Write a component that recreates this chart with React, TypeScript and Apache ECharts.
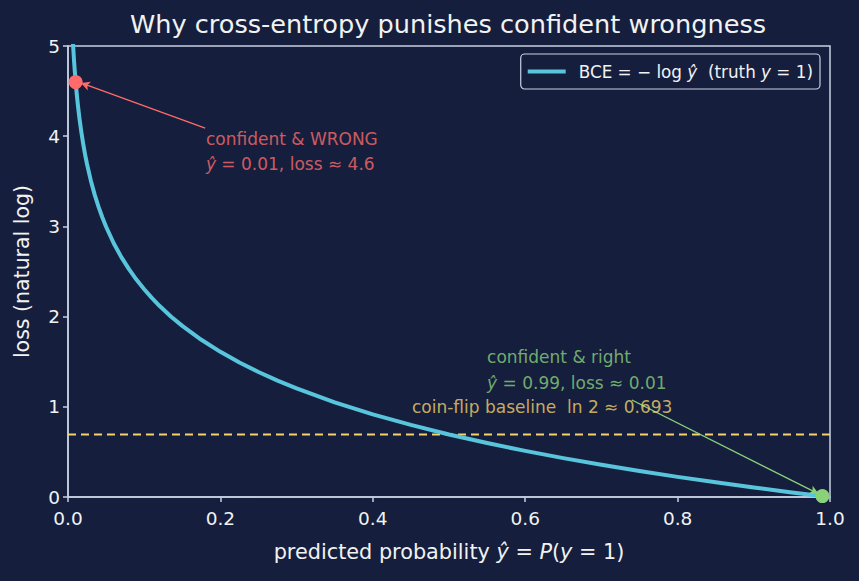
import React, { useEffect, useRef } from "react";
import * as echarts from "echarts";

// Predicted probability for the true class and its binary cross-entropy loss
const probs = [
  0.005, 0.0067, 0.008, 0.009, 0.01, 0.0115, 0.013, 0.015, 0.0175, 0.02, 0.0225,
  0.025, 0.03, 0.035, 0.04, 0.045, 0.05, 0.06, 0.07, 0.08, 0.09, 0.1, 0.11, 0.12,
  0.135, 0.15, 0.175, 0.2, 0.225, 0.25, 0.275, 0.3, 0.35, 0.4, 0.45, 0.5, 0.55,
  0.6, 0.65, 0.7, 0.75, 0.8, 0.85, 0.9, 0.95, 1.0,
];
const losses = [
  5.298, 5.006, 4.828, 4.711, 4.605, 4.465, 4.343, 4.2, 4.046, 3.912, 3.794,
  3.689, 3.507, 3.352, 3.219, 3.101, 2.996, 2.813, 2.659, 2.526, 2.408, 2.303,
  2.207, 2.12, 2.002, 1.897, 1.743, 1.609, 1.492, 1.386, 1.291, 1.204, 1.05,
  0.916, 0.799, 0.693, 0.598, 0.511, 0.431, 0.357, 0.288, 0.223, 0.163, 0.105,
  0.051, 0.0,
];

// Highlighted predictions
const wrongPoint = [0.01, 4.6];
const rightPoint = [0.99, 0.01];
const baselineLoss = 0.693;
const baselineSpan = [0, 1];

// Axis ranges
const xRange = [0, 1];
const yRange = [0, 5];

// Annotation anchors (data coordinates)
const wrongTextAt = [[0.181, 3.97], [0.181, 3.69]];
const rightTextAt = [[0.55, 1.55], [0.55, 1.262]];
const baselineTextAt = [0.4514, 0.998];
const wrongArrow = [[0.18, 4.09], [0.017, 4.59]];
const rightArrow = [[0.74, 1.075], [0.985, 0.035]];

const BG = "#151f3d";
const CURVE = "#58c5dd";
const RED = "#ff6b6b";
const GREEN = "#8ad27a";
const YELLOW = "#f4d26c";
const AXIS = "#c9d1e3";
const TEXT = "#f2f2f2";
const FONT = "DejaVu Sans";
const NOTE_SIZE = 17;

const mathRich = (color: string, size: number) => ({
  n: { color, fontSize: size, fontFamily: FONT },
  i: { color, fontSize: size, fontFamily: FONT, fontStyle: "italic" as const },
});

function textPoint(at: number[], text: string, color: string) {
  return {
    type: "scatter",
    silent: true,
    symbolSize: 0,
    z: 5,
    data: [at],
    label: {
      show: true,
      position: "right",
      distance: 0,
      formatter: text,
      rich: mathRich(color, NOTE_SIZE),
    },
  };
}

export default function App() {
  const ref = useRef<HTMLDivElement>(null);

  useEffect(() => {
    if (!ref.current) return;
    const chart = echarts.init(ref.current, null, { renderer: "svg" });
    const curve = probs.map((p, i) => [p, losses[i]]);

    chart.setOption({
      animation: false,
      backgroundColor: BG,
      textStyle: { fontFamily: FONT },
      graphic: [
        {
          type: "text",
          x: 448,
          y: 24,
          style: {
            text: "Why cross-entropy punishes confident wrongness",
            fill: TEXT,
            font: `25.6px "${FONT}"`,
            textAlign: "center",
            textVerticalAlign: "middle",
          },
        },
      ],
      grid: {
        left: 68,
        right: 29,
        top: 46,
        bottom: 84,
        show: true,
        borderColor: AXIS,
        borderWidth: 1.5,
        backgroundColor: "transparent",
      },
      legend: {
        right: 39,
        top: 54,
        data: [{ name: "BCE", icon: "rect" }],
        itemWidth: 38,
        itemHeight: 4,
        padding: [9, 7, 9, 7],
        backgroundColor: BG,
        borderColor: AXIS,
        borderWidth: 1.2,
        borderRadius: 4,
        formatter: () => "{n|BCE = − log }{i|ŷ}{n|  (truth }{i|y}{n| = 1)}",
        textStyle: {
          color: TEXT,
          fontSize: 16.8,
          padding: [0, 0, 0, 8],
          rich: mathRich(TEXT, 16.8),
        },
      },
      xAxis: {
        type: "value",
        min: xRange[0],
        max: xRange[1],
        interval: 0.2,
        name: "{n|predicted probability }{i|ŷ}{n| = }{i|P}{n|(}{i|y}{n| = 1)}",
        nameLocation: "middle",
        nameGap: 44,
        nameTextStyle: { rich: mathRich(TEXT, 20.8) },
        axisLine: { show: true, lineStyle: { color: AXIS, width: 1.5 } },
        axisTick: { show: true, length: 5, lineStyle: { color: AXIS, width: 1.5 } },
        axisLabel: {
          color: TEXT,
          fontSize: 18.5,
          fontFamily: FONT,
          margin: 12,
          formatter: (v: number) => v.toFixed(1),
        },
        splitLine: { show: false },
      },
      yAxis: {
        type: "value",
        min: yRange[0],
        max: yRange[1],
        interval: 1,
        name: "loss (natural log)",
        nameLocation: "middle",
        nameGap: 36,
        nameTextStyle: { color: TEXT, fontSize: 20.5, fontFamily: FONT },
        axisLine: { show: true, lineStyle: { color: AXIS, width: 1.5 } },
        axisTick: { show: true, length: 5, lineStyle: { color: AXIS, width: 1.5 } },
        axisLabel: { color: TEXT, fontSize: 18.5, fontFamily: FONT, margin: 8 },
        splitLine: { show: false },
      },
      series: [
        {
          name: "baseline",
          type: "line",
          silent: true,
          symbol: "none",
          data: baselineSpan.map((x) => [x, baselineLoss]),
          lineStyle: { color: YELLOW, width: 2, type: [8, 5] },
          z: 2,
        },
        {
          name: "BCE",
          type: "line",
          symbol: "none",
          smooth: false,
          clip: true,
          data: curve,
          lineStyle: { color: CURVE, width: 4, join: "round" },
          itemStyle: { color: CURVE },
          z: 3,
        },
        {
          name: "wrong",
          type: "scatter",
          symbolSize: 14,
          data: [wrongPoint],
          itemStyle: { color: RED, opacity: 1 },
          z: 6,
          markLine: {
            silent: true,
            symbol: ["none", "arrow"],
            symbolSize: [7, 9],
            label: { show: false },
            lineStyle: { color: RED, width: 1.3, type: "solid" },
            data: [[{ coord: wrongArrow[0] }, { coord: wrongArrow[1] }]],
          },
        },
        {
          name: "right",
          type: "scatter",
          symbolSize: 14,
          data: [rightPoint],
          itemStyle: { color: GREEN, opacity: 1 },
          z: 6,
          markLine: {
            silent: true,
            symbol: ["none", "arrow"],
            symbolSize: [7, 9],
            label: { show: false },
            lineStyle: { color: GREEN, width: 1.3, type: "solid" },
            data: [[{ coord: rightArrow[0] }, { coord: rightArrow[1] }]],
          },
        },
        textPoint(wrongTextAt[0], "{n|confident & WRONG}", RED),
        textPoint(wrongTextAt[1], "{i|ŷ}{n| = 0.01, loss ≈ 4.6}", RED),
        textPoint(rightTextAt[0], "{n|confident & right}", GREEN),
        textPoint(rightTextAt[1], "{i|ŷ}{n| = 0.99, loss ≈ 0.01}", GREEN),
        textPoint(baselineTextAt, "{n|coin-flip baseline  ln 2 ≈ 0.693}", YELLOW),
      ],
    });

    return () => chart.dispose();
  }, []);

  return (
    <div
      ref={ref}
      style={{ width: 859, height: 581, position: "absolute", left: 0, top: 0 }}
    />
  );
}
